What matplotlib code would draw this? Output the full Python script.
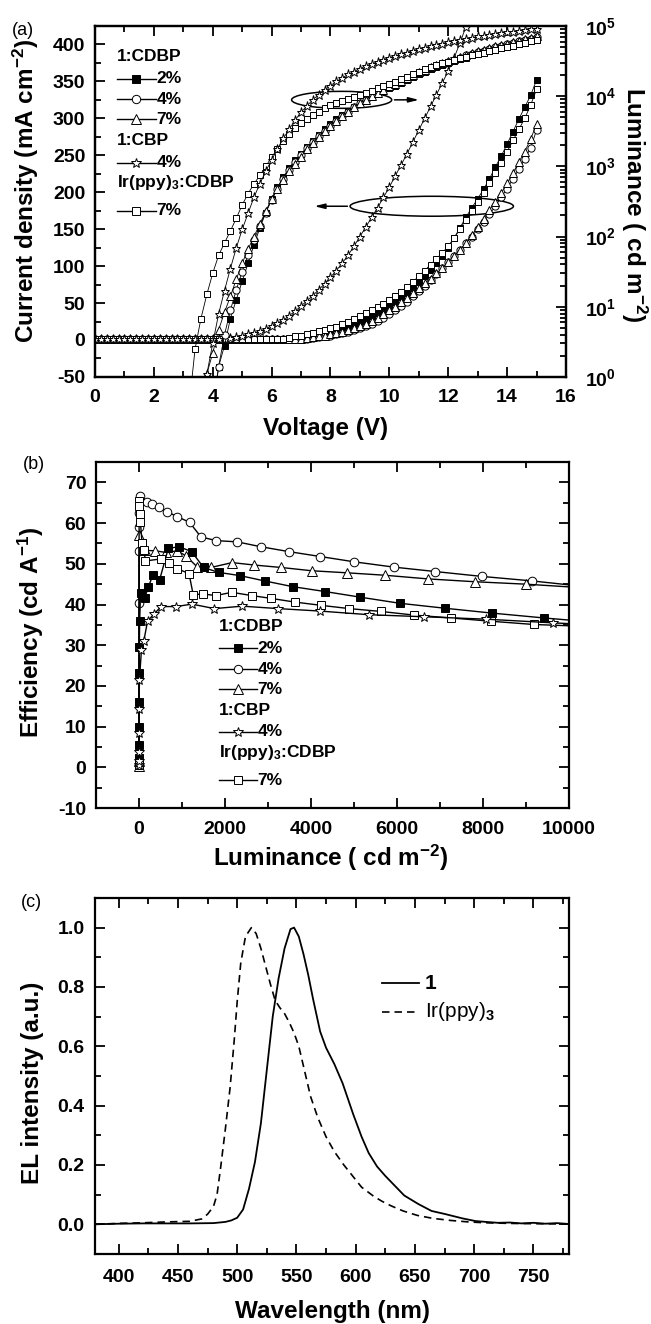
import numpy as np
import matplotlib
matplotlib.use('Agg')
import matplotlib.pyplot as plt
from matplotlib.patches import Ellipse
from matplotlib.ticker import MultipleLocator, LogLocator, FuncFormatter, NullFormatter, FormatStrFormatter

plt.rcParams['font.family'] = ['Liberation Sans', 'DejaVu Sans']
plt.rcParams['font.weight'] = 'bold'
plt.rcParams['axes.labelweight'] = 'bold'
plt.rcParams['mathtext.fontset'] = 'custom'
plt.rcParams['mathtext.rm'] = 'Liberation Sans'
plt.rcParams['mathtext.bf'] = 'Liberation Sans:bold'
plt.rcParams['mathtext.it'] = 'Liberation Sans:italic'
plt.rcParams['mathtext.default'] = 'bf'
plt.rcParams['axes.linewidth'] = 1.6
plt.rcParams['axes.unicode_minus'] = False

# ---------------- (a) J-V-L data ----------------
voltage = [0.0, 0.2, 0.4, 0.6, 0.8, 1.0, 1.2, 1.4, 1.6, 1.8,
           2.0, 2.2, 2.4, 2.6, 2.8, 3.0, 3.2, 3.4, 3.6, 3.8,
           4.0, 4.2, 4.4, 4.6, 4.8, 5.0, 5.2, 5.4, 5.6, 5.8,
           6.0, 6.2, 6.4, 6.6, 6.8, 7.0, 7.2, 7.4, 7.6, 7.8,
           8.0, 8.2, 8.4, 8.6, 8.8, 9.0, 9.2, 9.4, 9.6, 9.8,
           10.0, 10.2, 10.4, 10.6, 10.8, 11.0, 11.2, 11.4, 11.6, 11.8,
           12.0, 12.2, 12.4, 12.6, 12.8, 13.0, 13.2, 13.4, 13.6, 13.8,
           14.0, 14.2, 14.4, 14.6, 14.8, 15.0]

# current density (mA cm-2), starting at 0 V
j_2pct = [2, 2, 2, 2, 2, 2, 2, 2, 2, 2,
          2, 2, 2, 2, 2, 2, 2, 2, 2, 2,
          2, 2, 2, 2, 2, 2, 2, 2, 2, 2,
          2, 2, 2, 2, 2, 3, 4, 5, 7, 8,
          10, 12, 14, 17, 20, 24, 28, 32, 36, 41,
          46, 52, 58, 64, 71, 78, 86, 95, 104, 114,
          125, 138, 152, 166, 179, 191, 204, 218, 234, 249,
          265, 282, 299, 315, 331, 352]
j_4pct = [2, 2, 2, 2, 2, 2, 2, 2, 2, 2,
          2, 2, 2, 2, 2, 2, 2, 2, 2, 2,
          2, 2, 2, 2, 2, 2, 2, 2, 2, 2,
          2, 2, 2, 2, 2, 2, 2, 3, 4, 5,
          6, 8, 9, 11, 13, 16, 19, 22, 26, 30,
          35, 40, 46, 52, 59, 66, 73, 81, 89, 98,
          106, 114, 122, 131, 140, 150, 160, 170, 181, 193,
          205, 218, 231, 245, 260, 284]
j_7pct = [2, 2, 2, 2, 2, 2, 2, 2, 2, 2,
          2, 2, 2, 2, 2, 2, 2, 2, 2, 2,
          2, 2, 2, 2, 2, 2, 2, 2, 2, 2,
          2, 2, 2, 2, 2, 2, 3, 4, 5, 6,
          8, 9, 11, 13, 16, 19, 22, 26, 30, 35,
          40, 45, 51, 57, 63, 70, 77, 83, 90, 97,
          105, 114, 122, 131, 142, 153, 164, 176, 187, 199,
          212, 226, 241, 255, 272, 292]
j_cbp = [2, 2, 2, 2, 2, 2, 2, 2, 2, 2,
         2, 2, 2, 2, 2, 2, 2, 2, 2, 2,
         2, 2, 2, 3, 4.5, 6, 7.5, 9.5, 12, 15,
         19, 23, 27, 33, 39, 46, 53, 60, 68, 76,
         85, 94, 104, 115, 127, 140, 153, 166, 179, 193,
         207, 222, 237, 252, 268, 284, 300, 316, 332, 348,
         364, 382, 402, 424, 448]
j_ir = [2, 2, 2, 2, 2, 2, 2, 2, 2, 2,
        2, 2, 2, 2, 2, 2, 2, 2, 2, 2,
        2, 2, 2, 2, 2, 2, 2, 2, 2, 2,
        2, 2, 2, 3, 5, 6, 8, 10, 12, 14,
        16, 18, 21, 24, 28, 32, 36, 40, 44, 49,
        54, 59, 65, 72, 79, 86, 94, 102, 110, 118,
        127, 138, 150, 163, 175, 187, 199, 212, 226, 240,
        255, 270, 285, 300, 318, 339]

# luminance (cd m-2), ending at 15 V
lum_2pct = [0.4, 1.4, 2.8, 6.8, 12.6, 22.9, 41.7, 75.9, 132, 219,
            347, 501, 708, 955, 1230, 1514, 1862, 2291, 2818, 3388,
            3981, 4677, 5370, 6166, 7079, 7943, 8913, 9772, 10720, 11750,
            12880, 14130, 15490, 16980, 18620, 20420, 22390, 23990, 25700, 27540,
            29510, 31620, 33880, 35480, 38020, 39810, 41690, 43650, 45710, 47860,
            50120, 52480, 54950, 57540, 60260, 63100]
lum_4pct = [0.3, 1.4, 4.0, 8.9, 17.4, 31.6, 55, 89, 141, 219,
            331, 479, 661, 891, 1148, 1445, 1820, 2239, 2692, 3236,
            3802, 4467, 5248, 6026, 6918, 7943, 8913, 10000, 11220, 12300,
            13490, 14790, 16220, 17780, 19500, 21380, 22910, 25120, 26920, 28840,
            30900, 33110, 35480, 38020, 39810, 42660, 44670, 46770, 50120, 52480,
            54950, 57540, 60260, 63100, 66070, 69180]
lum_7pct = [0.3, 1.1, 2.2, 4.7, 8.3, 14.1, 24.5, 41.7, 66, 100,
            151, 229, 339, 479, 646, 851, 1096, 1380, 1738, 2138,
            2630, 3162, 3802, 4467, 5248, 6026, 6918, 7943, 8913, 10000,
            11220, 12300, 13800, 15140, 16600, 18200, 19950, 21880, 23440, 25700,
            27540, 29510, 31620, 33880, 36310, 38900, 40740, 43650, 45710, 47860,
            51290, 53700, 56230, 58880, 61660, 64570, 67610, 70790]
lum_cbp = [0.3, 1.1, 3.0, 7.9, 17, 35, 69, 126, 214, 363,
           562, 851, 1230, 1778, 2512, 3388, 4571, 5888, 7244, 8913,
           10470, 12300, 14130, 16220, 18200, 20420, 22390, 24550, 26920, 28840,
           30900, 33110, 35480, 37150, 39810, 41690, 44670, 46770, 48980, 51290,
           53700, 56230, 58880, 61660, 63100, 66070, 67610, 70790, 72440, 74130,
           77620, 79430, 81280, 83180, 85110, 87100, 89130, 91200]
lum_ir = [0.4, 2.5, 6.8, 15, 30, 54, 81, 120, 182, 282,
          407, 562, 741, 1000, 1349, 1778, 2291, 2884, 3548, 4169,
          4786, 5370, 6026, 6761, 7413, 7943, 8511, 9120, 9772, 10470,
          11220, 12020, 12880, 13800, 14790, 15850, 17380, 19050, 20890, 22390,
          23990, 25700, 27540, 29510, 30900, 32360, 34670, 36310, 38020, 39810,
          41690, 43650, 45710, 47860, 50120, 52480, 54950, 57540, 60260, 63100]

# ---------------- (b) efficiency vs luminance ----------------
eff_lum_2pct = [0.1, 0.2, 0.4, 0.8, 1.5, 3, 6, 15, 35, 133, 220, 325, 480, 680,
                930, 1225, 1500, 1850, 2350, 2920, 3570, 4320, 5150, 6070,
                7105, 8205, 9420, 10200]
eff_2pct = [0.5, 2.3, 5.6, 9.9, 16.1, 23.2, 29.5, 35.9, 42.8, 41.7, 44.4, 47.3, 46.1, 53.8,
            54.2, 53.0, 49.1, 47.9, 47.1, 45.8, 44.4, 43.2, 41.8, 40.3,
            39.1, 37.9, 36.7, 36.0]
eff_lum_4pct = [0.1, 0.3, 1, 3, 8, 25, 190, 310, 460, 650, 890, 1175, 1440, 1800,
                2280, 2835, 3485, 4213, 4998, 5920, 6893, 7979, 9144, 10200]
eff_4pct = [0.5, 40.4, 53.2, 59.0, 62.5, 66.7, 65.2, 64.6, 63.9, 62.8, 61.6, 60.2, 56.6, 55.7,
            55.4, 54.2, 53.0, 51.8, 50.5, 49.2, 48.1, 46.9, 45.8, 44.6]
eff_lum_7pct = [0.1, 0.3, 2, 150, 383, 620, 889, 1085, 1357, 1670, 2165, 2683, 3310,
                4013, 4825, 5712, 6716, 7810, 9000, 10200]
eff_7pct = [0.4, 1.5, 57.1, 53.3, 53.2, 52.8, 53.2, 52.0, 49.2, 49.1, 50.3, 49.7, 49.1,
            48.3, 47.8, 47.2, 46.3, 45.6, 45.0, 44.2]
eff_lum_cbp = [0.1, 0.3, 0.6, 1.2, 2.5, 9, 56, 110, 200, 344, 510, 860, 1230, 1755,
               2400, 3235, 4200, 5345, 6620, 8070, 9627, 10200]
eff_cbp = [0.5, 1.5, 3.7, 8.4, 14.4, 21.5, 28.8, 31.0, 36.0, 37.6, 39.5, 39.5, 40.1, 39.0,
           39.6, 39.0, 38.4, 37.5, 37.0, 36.4, 35.5, 35.2]
eff_lum_ir = [0.1, 0.3, 2, 8, 18, 33, 70, 110, 150, 500, 690, 890, 1163, 1260, 1490,
              1780, 2160, 2620, 3075, 3625, 4235, 4890, 5627, 6400, 7256, 8177, 9175, 10200]
eff_ir = [0.5, 1.2, 65.5, 64.3, 62.2, 60.2, 55.2, 53.5, 50.7, 51.2, 50.1, 48.8, 47.6, 42.4, 42.6,
          42.2, 43.0, 42.2, 41.5, 40.6, 39.8, 39.0, 38.3, 37.4, 36.7, 35.9, 35.1, 34.7]

# ---------------- (c) EL spectra ----------------
wl_1 = [380, 400, 420, 440, 460, 480, 490, 495, 500, 505,
        510, 515, 520, 525, 530, 535, 540, 545, 548, 552,
        556, 560, 564, 570, 575, 582, 589, 598, 605, 611,
        618, 625, 633, 641, 653, 664, 676, 690, 701, 710,
        720, 730, 740, 750, 760, 770, 780]
el_1 = [0.0, 0.002, 0.003, 0.003, 0.003, 0.004, 0.008, 0.013, 0.022, 0.05,
        0.12, 0.21, 0.34, 0.52, 0.70, 0.83, 0.93, 0.995, 1.0, 0.97,
        0.91, 0.84, 0.76, 0.65, 0.595, 0.54, 0.475, 0.37, 0.295, 0.24,
        0.195, 0.163, 0.13, 0.097, 0.068, 0.045, 0.034, 0.02, 0.011, 0.008,
        0.005, 0.006, 0.003, 0.005, 0.002, 0.004, 0.001]
wl_ir = [380, 400, 420, 440, 460, 470, 475, 480, 483, 486,
         490, 494, 497.5, 500, 503, 507, 512, 516, 520, 524,
         528, 532, 536, 540, 544, 548, 552, 557, 562, 568,
         575, 582, 590, 597, 605, 615, 622, 630, 640, 652,
         665, 680, 695, 710, 730, 750, 780]
el_ir = [0.0, 0.003, 0.005, 0.008, 0.010, 0.018, 0.034, 0.06, 0.1, 0.19,
         0.32, 0.46, 0.62, 0.75, 0.88, 0.97, 1.0, 0.98, 0.93, 0.87,
         0.81, 0.755, 0.73, 0.71, 0.68, 0.645, 0.6, 0.515, 0.43, 0.36,
         0.295, 0.245, 0.2, 0.165, 0.125, 0.095, 0.078, 0.062, 0.045, 0.03,
         0.02, 0.013, 0.008, 0.005, 0.003, 0.002, 0.001]

key_labels = ['1:CDBP', '2%', '4%', '7%', '1:CBP', '4%', 'Ir(ppy)$_3$:CDBP', '7%']

# ---------------- styles ----------------
def mstyle(marker, fill, ms):
    return dict(marker=marker, mfc=fill, mec='k', ms=ms, mew=0.7, color='k')

sty_a = {'2': mstyle('s', 'k', 4.6), '4': mstyle('o', 'w', 5.2), '7': mstyle('^', 'w', 5.6),
         'cbp': mstyle('*', 'w', 6.8), 'ir': mstyle('s', 'w', 4.8)}
sty_b = {'2': mstyle('s', 'k', 5.6), '4': mstyle('o', 'w', 6.2), '7': mstyle('^', 'w', 6.8),
         'cbp': mstyle('*', 'w', 7.5), 'ir': mstyle('s', 'w', 5.6)}
sty_key = {'2': mstyle('s', 'k', 5.4), '4': mstyle('o', 'w', 6.0), '7': mstyle('^', 'w', 6.6),
           'cbp': mstyle('*', 'w', 7.4), 'ir': mstyle('s', 'w', 5.4)}
key_order = [None, '2', '4', '7', None, 'cbp', None, 'ir']

TICK_FS = 14
LAB_FS = 17.5


def style_ticks(ax, major=7, minor=4):
    ax.tick_params(which='both', direction='in', width=1.3, labelsize=TICK_FS)
    ax.tick_params(which='major', length=major)
    ax.tick_params(which='minor', length=minor)


def draw_key(ax, x0, x1, xt, rows, lw):
    for y, lab, k in zip(rows, key_labels, key_order):
        if k is None:
            ax.text(x0, y, lab, transform=ax.transAxes, fontsize=12.5, va='center', ha='left')
        else:
            ax.plot([x0, (x0 + x1) / 2, x1], [y, y, y], transform=ax.transAxes,
                    lw=lw, markevery=[1], clip_on=False, **sty_key[k])
            ax.text(xt, y, lab, transform=ax.transAxes, fontsize=12.5, va='center', ha='left')


fig = plt.figure(figsize=(6.51, 13.24), dpi=100)

# ================= panel (a) =================
ax = fig.add_axes([0.1459, 0.7153, 0.7235, 0.2651])
ax2 = ax.twinx()

for j, k in [(j_2pct, '2'), (j_4pct, '4'), (j_7pct, '7'), (j_ir, 'ir'), (j_cbp, 'cbp')]:
    ax.plot(voltage[:len(j)], j, lw=0.6, **sty_a[k])
for lum, k in [(lum_2pct, '2'), (lum_4pct, '4'), (lum_7pct, '7'), (lum_ir, 'ir'), (lum_cbp, 'cbp')]:
    ax2.plot(voltage[-len(lum):], lum, lw=0.6, **sty_a[k])

ax.set_xlim(0, 16)
ax.set_ylim(-50, 425)
ax.xaxis.set_major_locator(MultipleLocator(2))
ax.xaxis.set_minor_locator(MultipleLocator(1))
ax.yaxis.set_major_locator(MultipleLocator(50))
ax.yaxis.set_minor_locator(MultipleLocator(25))
style_ticks(ax)
ax.tick_params(which='both', top=True, right=False)
ax.tick_params(axis='x', pad=9)
ax.tick_params(axis='y', pad=7)

ax2.set_yscale('log')
ax2.set_ylim(1, 1e5)
ax2.yaxis.set_major_locator(LogLocator(base=10))
ax2.yaxis.set_minor_locator(LogLocator(base=10, subs=np.arange(2, 10)))
ax2.yaxis.set_major_formatter(FuncFormatter(lambda v, p: r'$\mathbf{10^{%d}}$' % round(np.log10(v))))
ax2.yaxis.set_minor_formatter(NullFormatter())
style_ticks(ax2)
ax2.tick_params(axis='y', pad=14)

ax.set_xlabel('Voltage (V)', fontsize=LAB_FS)
ax.xaxis.set_label_coords(0.49, -0.114)
ax.xaxis.label.set_va('top')
ax.set_ylabel('Current density (mA cm$^{-2}$)', fontsize=LAB_FS)
ax.yaxis.set_label_coords(-0.115, 0.53)
ax2.set_ylabel('Luminance ( cd m$^{-2}$)', fontsize=LAB_FS, rotation=270, va='bottom')
ax2.yaxis.set_label_coords(1.112, 0.49)

# guide ellipses with arrows
ax.add_patch(Ellipse((8.38, 325), 3.4, 23, fill=False, lw=1.1, ec='k'))
ax.annotate('', xy=(11.1, 325), xytext=(10.08, 325),
            arrowprops=dict(arrowstyle='-|>,head_length=0.6,head_width=0.15', lw=1.1, color='k'))
ax.add_patch(Ellipse((11.44, 181), 5.55, 27, fill=False, lw=1.1, ec='k'))
ax.annotate('', xy=(7.36, 181), xytext=(8.67, 181),
            arrowprops=dict(arrowstyle='-|>,head_length=0.6,head_width=0.15', lw=1.1, color='k'))

draw_key(ax2, 0.0467, 0.1295, 0.131,
         [0.9125, 0.849, 0.791, 0.734, 0.675, 0.6105, 0.5536, 0.4738], 1.0)

fig.text(12 / 651, 1 - 22 / 1324, '(a)', fontsize=13, fontweight='normal', va='top', ha='left')

# ================= panel (b) =================
bx = fig.add_axes([0.1475, 0.3897, 0.7266, 0.2613])
for lx, ey, k in [(eff_lum_4pct, eff_4pct, '4'), (eff_lum_7pct, eff_7pct, '7'),
                  (eff_lum_2pct, eff_2pct, '2'), (eff_lum_ir, eff_ir, 'ir'),
                  (eff_lum_cbp, eff_cbp, 'cbp')]:
    bx.plot(lx, ey, lw=1.0, **sty_b[k])
bx.set_xlim(-1000, 10000)
bx.set_ylim(-10, 75)
bx.xaxis.set_major_locator(MultipleLocator(2000))
bx.xaxis.set_minor_locator(MultipleLocator(1000))
bx.yaxis.set_major_locator(MultipleLocator(10))
bx.yaxis.set_minor_locator(MultipleLocator(5))
style_ticks(bx)
bx.tick_params(which='both', top=True, right=True)
bx.tick_params(axis='x', pad=9)
bx.tick_params(axis='y', pad=7)
bx.set_xlabel('Luminance ( cd m$^{-2}$)', fontsize=LAB_FS)
bx.xaxis.set_label_coords(0.497, -0.101)
bx.xaxis.label.set_va('top')
bx.set_ylabel('Efficiency (cd A$^{-1}$)', fontsize=LAB_FS)
bx.yaxis.set_label_coords(-0.105, 0.507)

draw_key(bx, 0.2594, 0.340, 0.341,
         [0.524, 0.4616, 0.4009, 0.343, 0.2832, 0.2205, 0.161, 0.0809], 1.0)

fig.text(23 / 651, 1 - 456 / 1324, '(b)', fontsize=13, fontweight='normal', va='top', ha='left')

# ================= panel (c) =================
cx = fig.add_axes([0.1459, 0.0529, 0.7281, 0.2689])
cx.plot(wl_1, el_1, color='k', lw=1.3)
cx.plot(wl_ir, el_ir, color='k', lw=1.2, linestyle=(0, (4.5, 3)))
cx.set_xlim(380, 780)
cx.set_ylim(-0.1, 1.1)
cx.xaxis.set_major_locator(MultipleLocator(50))
cx.xaxis.set_minor_locator(MultipleLocator(25))
cx.yaxis.set_major_locator(MultipleLocator(0.2))
cx.yaxis.set_minor_locator(MultipleLocator(0.1))
cx.yaxis.set_major_formatter(FormatStrFormatter('%.1f'))
style_ticks(cx)
cx.tick_params(which='both', top=True, right=True)
cx.tick_params(axis='x', pad=11)
cx.tick_params(axis='y', pad=7.5)
cx.set_xlabel('Wavelength (nm)', fontsize=LAB_FS)
cx.xaxis.set_label_coords(0.501, -0.129)
cx.xaxis.label.set_va('top')
cx.set_ylabel('EL intensity (a.u.)', fontsize=LAB_FS)
cx.yaxis.set_label_coords(-0.108, 0.48)

cx.plot([0.605, 0.684], [0.761, 0.761], transform=cx.transAxes, color='k', lw=1.3)
cx.plot([0.605, 0.684], [0.681, 0.681], transform=cx.transAxes, color='k', lw=1.2,
        linestyle=(0, (4.5, 3)))
cx.text(0.696, 0.761, '1', transform=cx.transAxes, fontsize=15, va='center', ha='left')
cx.text(0.696, 0.681, 'Ir(ppy)$_\\mathrm{3}$', transform=cx.transAxes, fontsize=15,
        fontweight='normal', va='center', ha='left')

fig.text(21 / 651, 1 - 894 / 1324, '(c)', fontsize=13, fontweight='normal', va='top', ha='left')

fig.savefig('out.png', dpi=100)
